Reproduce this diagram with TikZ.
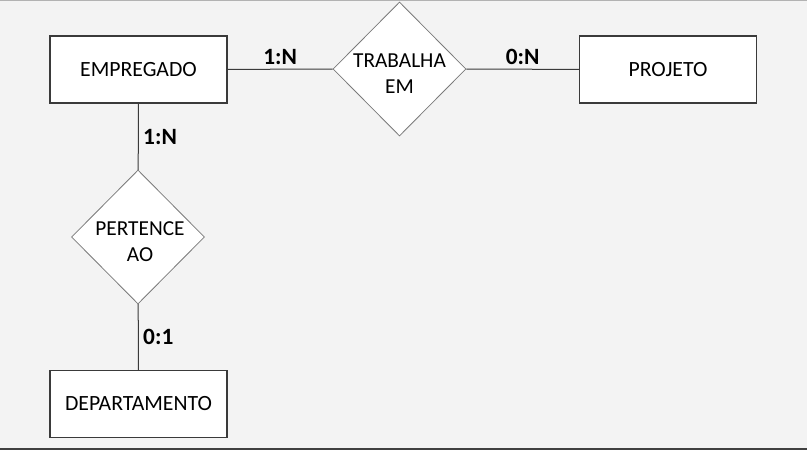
\documentclass[tikz,border=0pt]{standalone}
\usepackage{fontspec}
\setmainfont{Carlito}
\definecolor{BG}{HTML}{F3F3F3}
\definecolor{EDGE}{HTML}{3A3A3A}
\definecolor{RIM}{HTML}{7A7A7A}
\usetikzlibrary{shapes.geometric,positioning}

\begin{document}
\begin{tikzpicture}
[x=0.75pt, y=-0.75pt,
entity/.style ={rectangle, draw=EDGE, fill=white, line width=0.9pt,
minimum width=132.75pt, minimum height=50.25pt, inner sep=0pt,
font=\fontsize{16.3}{19}\selectfont},
relation/.style={diamond, draw=RIM, fill=white, line width=0.6pt, aspect=1,
inner sep=0pt, minimum width=99.75pt, minimum height=100.5pt},
reltext/.style={align=center, inner sep=0pt, font=\fontsize{16}{19.5}\selectfont},
conn/.style={draw=EDGE, line width=0.75pt},
card/.style={black, font=\bfseries\fontsize{17.5}{20}\selectfont}]
\useasboundingbox (0,0) rectangle (807,450);
\fill[BG] (0,0) rectangle (807,450);
\draw[black!30, line width=0.75pt] (0,0.5) -- (807,0.5);
\fill[black!75] (0,447.5) rectangle (807,450);

\node[entity] (emp) at (138.5,69.5) {EMPREGADO};
\node[relation] (trab) at (399.5,69) {};
\node[reltext] (trabtxt) at (399.5,74) {TRABALHA\\EM};
\node[entity] (proj) at (668,69.5) {PROJETO};
\node[relation] (pert) at (138,237) {};
\node[reltext] (perttxt) at (140,242) {PERTENCE\\AO};
\node[entity] (dep) at (138.5,404) {DEPARTAMENTO};

\draw[conn] (emp) -- (trab) node[midway,above,card] {1:N};
\draw[conn] (trab) -- (proj) node[midway,above,card] {0:N};
\draw[conn] (emp) -- (pert) node[midway,right,card] {1:N};
\draw[conn] (pert) -- (dep) node[midway,right,card] {0:1};

\end{tikzpicture}
\end{document}
